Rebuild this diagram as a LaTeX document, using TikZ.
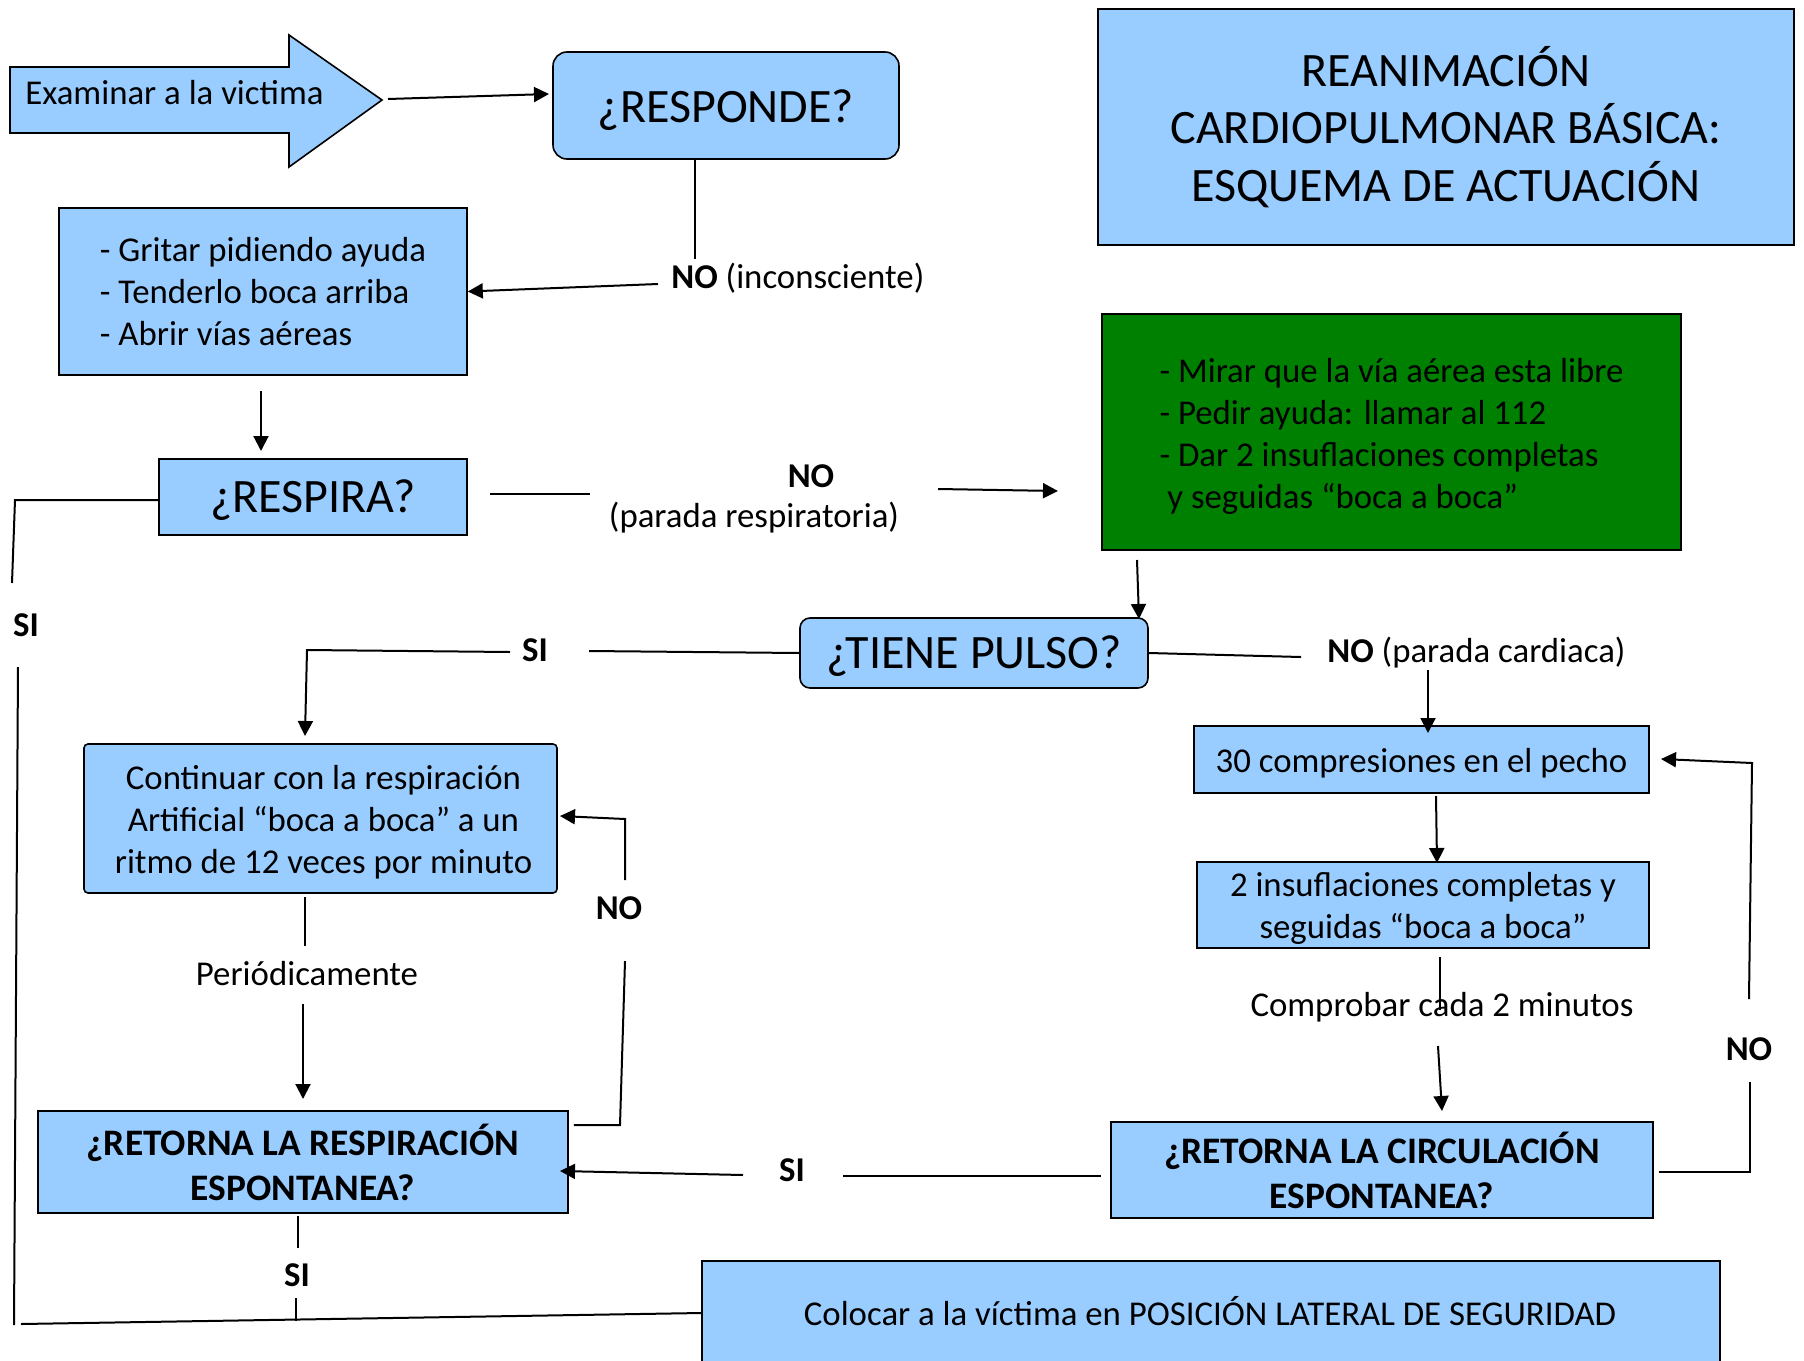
\documentclass[tikz,border=0pt]{standalone}
\usepackage{fontspec}
\setmainfont{Carlito}
\usetikzlibrary{arrows.meta}
\definecolor{lblue}{HTML}{99CCFF}
\definecolor{dgreen}{HTML}{008000}
\tikzset{
  box/.style={draw=black, line width=0.8pt, fill=lblue, inner sep=0pt},
  rbox/.style={box, rounded corners=7pt},
  conn/.style={line width=1pt},
  thinconn/.style={line width=0.6pt},
  arr/.style={conn, -{Triangle[length=7.5pt,width=7.5pt]}},
  txt/.style={inner sep=0pt, font=\fontsize{17.4}{21}\selectfont},
  btxt/.style={inner sep=0pt, font=\fontsize{17.4}{21}\selectfont\bfseries},
  big/.style={inner sep=0pt, font=\fontsize{24}{28.75}\selectfont},
  bold/.style={font=\fontsize{18.7}{22.5}\selectfont\bfseries}
}
\begin{document}
\begin{tikzpicture}[x=0.5pt,y=-0.5pt]
\useasboundingbox (0,0) rectangle (1804,1360);
% big arrow
\draw[line width=0.8pt, fill=lblue] (10,67) -- (289,67) -- (289,35) -- (382,100) -- (289,167) -- (289,133) -- (10,133) -- cycle;
\node[txt, anchor=west] (exam) at (25,93) {Examinar a la victima};
\coordinate (examtip) at (388,99);
% boxes
\node[rbox, minimum width=173pt, minimum height=53.5pt] (respond) at (726,105.5) {};
\node[big] (respondtxt) at (726,110) {¿RESPONDE?};
\node[box, minimum width=348pt, minimum height=118pt, big, align=center] (title) at (1446,127) {REANIMACIÓN\\CARDIOPULMONAR BÁSICA:\\ESQUEMA DE ACTUACIÓN};
\node[box, minimum width=204pt, minimum height=83.5pt, txt, align=left] (grit) at (263,291.5) {- Gritar pidiendo ayuda\\- Tenderlo boca arriba\\- Abrir vías aéreas};
\node[box, minimum width=154pt, minimum height=38pt] (respira) at (313,497) {};
\node[big] (respiratxt) at (313,500.5) {¿RESPIRA?};
\node[box, fill=dgreen, minimum width=289.5pt, minimum height=118pt] (green) at (1391.5,432) {};
\node[txt, align=left] (greentxt) at (1391.5,436.5) {- Mirar que la vía aérea esta libre\\- Pedir ayuda: llamar al 112\\- Dar 2 insuflaciones completas\\\ y seguidas “boca a boca”};
\node[box, rounded corners=5pt, minimum width=174pt, minimum height=35pt] (pulso) at (974,653) {};
\node[big] (pulsotxt) at (974,656.5) {¿TIENE PULSO?};
\node[box, minimum width=227.5pt, minimum height=33.5pt] (comp) at (1421.5,759.5) {};
\node[txt] (comptxt) at (1421.5,763) {30 compresiones en el pecho};
\node[box, minimum width=226pt, minimum height=43pt] (insuf) at (1423,905) {};
\node[txt, align=center] (insuftxt) at (1423,908.5) {2 insuflaciones completas y\\seguidas “boca a boca”};
\node[box, minimum width=271pt, minimum height=48pt, bold, align=center] (retcirc) at (1382,1170) {¿RETORNA LA CIRCULACIÓN\\ESPONTANEA?};
\node[box, minimum width=265pt, minimum height=51pt, bold, align=center] (retresp) at (303,1162) {¿RETORNA LA RESPIRACIÓN\\ESPONTANEA?};
\node[box, rounded corners=2pt, minimum width=236.5pt, minimum height=74.5pt] (cont) at (320.5,818.5) {};
\node[txt, align=center] (conttxt) at (323.5,822.5) {Continuar con la respiración\\Artificial “boca a boca” a un\\ritmo de 12 veces por minuto};
\node[box, minimum width=509pt, minimum height=52pt] (coloc) at (1211,1313) {};
\node[txt] (coloctxt) at (1210,1311) {Colocar a la víctima en POSICIÓN LATERAL DE SEGURIDAD};
% labels
\node[txt, anchor=west] (noinc) at (671,278.5) {\textbf{NO} (inconsciente)};
\node[btxt] (noresp1) at (811,476) {NO};
\node[txt] (noresp2) at (754,518) {(parada respiratoria)};
\node[btxt] (sipulso) at (535,650) {SI};
\node[txt, anchor=west] (nocard) at (1327,652.5) {\textbf{NO} (parada cardiaca)};
\node[txt] (period) at (307,974) {Periódicamente};
\node[btxt] (nobreath) at (619,908) {NO};
\node[txt] (comprob) at (1442,1007.5) {Comprobar cada 2 minutos};
\node[btxt] (nocirc) at (1749,1049) {NO};
\node[btxt] (simid) at (792,1170) {SI};
\node[btxt] (sibot) at (297,1275) {SI};
\node[btxt] (sileft) at (26,625) {SI};
% coordinates
\coordinate (a1) at (549,94);
\coordinate (c1) at (695,259);
\coordinate (c2) at (658,284);
\coordinate (d1) at (261,391);
\coordinate (d2) at (261,451);
\coordinate (e1) at (590,494);
\coordinate (e2) at (938,489);
\coordinate (e3) at (1058,491);
\coordinate (f1) at (1137,560);
\coordinate (f2) at (1139,619);
\coordinate (g1) at (589,651);
\coordinate (g2) at (510,652);
\coordinate (g3) at (307,650);
\coordinate (g4) at (305,736);
\coordinate (h1) at (1301,657);
\coordinate (h2) at (1428,670);
\coordinate (h3) at (1428,733);
\coordinate (i1) at (1436,796);
\coordinate (i2) at (1437,863);
\coordinate (j1) at (1440,957);
\coordinate (j2) at (1440,1010);
\coordinate (j3) at (1438,1046);
\coordinate (j4) at (1442,1111);
\coordinate (k1) at (1750,1172);
\coordinate (k2) at (1750,1082);
\coordinate (k3) at (1749,999);
\coordinate (k4) at (1752,763);
\coordinate (k5) at (1661,759);
\coordinate (l1) at (843,1176);
\coordinate (l2) at (743,1175);
\coordinate (l3) at (560,1171);
\coordinate (m1) at (305,897);
\coordinate (m2) at (305,946);
\coordinate (m3) at (303,1004);
\coordinate (m4) at (303,1099);
\coordinate (n1) at (620,1125);
\coordinate (n2) at (625,961);
\coordinate (n3) at (625,880);
\coordinate (n4) at (625,819);
\coordinate (n5) at (560,816);
\coordinate (o1) at (298,1216);
\coordinate (o2) at (298,1248);
\coordinate (o3) at (296,1298);
\coordinate (o4) at (296,1321);
\coordinate (p1) at (21,1324);
\coordinate (p2) at (14,1325);
\coordinate (p3) at (18,667);
\coordinate (p4) at (12,583);
\coordinate (p5) at (15,500);
% connectors
\draw[arr] (examtip) -- (a1);
\draw[thinconn] (c1 |- respond.south) -- (c1);
\draw[arr] (c2) -- (grit.east);
\draw[arr] (d1) -- (d2);
\draw[conn] (respira.east |- e1) ++(22,0) -- (e1);
\draw[arr] (e2) -- (e3);
\draw[arr] (f1) -- (f2);
\draw[conn] (pulso.west) -- (g1);
\draw[arr] (g2) -- (g3) -- (g4);
\draw[conn] (pulso.east) -- (h1);
\draw[arr] (h2) -- (h3);
\draw[arr] (i1) -- (i2);
\draw[thinconn] (j1) -- (j2);
\draw[arr] (j3) -- (j4);
\draw[conn] (retcirc.east |- k1) ++(5,0) -- (k1) -- (k2);
\draw[arr] (k3) -- (k4) -- (k5);
\draw[conn] (retcirc.west |- l1) ++(-9,0) -- (l1);
\draw[arr] (l2) -- (l3);
\draw[conn] (m1) -- (m2);
\draw[arr] (m3) -- (m4);
\draw[conn] (retresp.east |- n1) ++(5,0) -- (n1) -- (n2);
\draw[arr] (n3) -- (n4) -- (n5);
\draw[conn] (o1) -- (o2);
\draw[conn] (o3) -- (o4);
\draw[conn] (coloc.west) -- (p1);
\draw[conn] (p2) -- (p3);
\draw[conn] (p4) -- (p5) -- (respira.west |- p5);
\end{tikzpicture}
\end{document}
